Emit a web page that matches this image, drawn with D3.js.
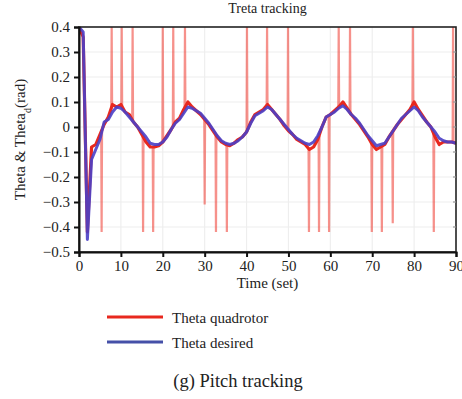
<!DOCTYPE html>
<html>
<head>
<meta charset="utf-8">
<script src="https://cdn.jsdelivr.net/npm/d3@7"></script>
<style>
  body { margin: 0; background: #fff; }
  text { font-family: "Liberation Serif", "DejaVu Serif", serif; fill: #222; }
</style>
</head>
<body>
<svg id="chart" width="462" height="399"></svg>
<script>
// time axis, one sample per second
var time = d3.range(0, 91);

// desired pitch (rad)
var thetaDesired = [
  0.40, 0.38, -0.45, -0.13, -0.09, -0.05, 0.02, 0.03, 0.06, 0.08,
  0.075, 0.06, 0.04, 0.02, 0.00, -0.02, -0.04, -0.065, -0.07, -0.07,
  -0.06, -0.04, -0.01, 0.015, 0.03, 0.055, 0.08, 0.075, 0.065, 0.055,
  0.035, 0.015, -0.01, -0.035, -0.055, -0.065, -0.07, -0.065, -0.055, -0.04,
  -0.02, 0.015, 0.045, 0.055, 0.065, 0.08, 0.07, 0.05, 0.03, 0.01,
  -0.01, -0.03, -0.045, -0.055, -0.065, -0.07, -0.06, -0.035, 0.0, 0.04,
  0.05, 0.06, 0.075, 0.085, 0.07, 0.05, 0.035, 0.015, -0.01, -0.035,
  -0.055, -0.075, -0.07, -0.065, -0.04, -0.015, 0.01, 0.035, 0.05, 0.065,
  0.08, 0.065, 0.04, 0.02, 0.0, -0.02, -0.045, -0.055, -0.06, -0.06,
  -0.065
];

// quadrotor pitch (rad), red trace without the spikes
var thetaQuad = [
  0.40, 0.36, -0.42, -0.08, -0.07, -0.03, 0.01, 0.04, 0.09, 0.08,
  0.09, 0.06, 0.05, 0.02, 0.00, -0.03, -0.06, -0.08, -0.08, -0.075,
  -0.06, -0.035, -0.01, 0.02, 0.035, 0.07, 0.1, 0.08, 0.065, 0.05,
  0.03, 0.01, -0.015, -0.04, -0.06, -0.07, -0.075, -0.065, -0.05, -0.04,
  -0.02, 0.02, 0.05, 0.06, 0.07, 0.09, 0.07, 0.05, 0.03, 0.005,
  -0.015, -0.03, -0.05, -0.06, -0.07, -0.09, -0.08, -0.05, 0.0, 0.04,
  0.05, 0.065, 0.08, 0.1, 0.075, 0.05, 0.03, 0.01, -0.015, -0.04,
  -0.07, -0.09, -0.08, -0.07, -0.04, -0.015, 0.01, 0.03, 0.05, 0.07,
  0.1, 0.07, 0.045, 0.02, 0.0, -0.04, -0.07, -0.06, -0.06, -0.06,
  -0.065
];

// spikes of the quadrotor trace: [time, extreme value]
var quadSpikes = [
  [5.4, -0.42], [7.8, 0.4], [10.2, 0.4], [12.8, 0.4], [15.3, -0.42],
  [17.7, -0.42], [20.0, 0.4], [22.5, 0.4], [25.3, 0.4], [30.0, -0.31],
  [32.7, -0.42], [35.3, -0.42], [40.1, 0.4], [44.9, 0.4], [49.9, 0.4],
  [54.9, -0.42], [57.3, -0.42], [59.7, -0.42], [62.0, 0.4], [64.7, 0.4],
  [69.9, -0.42], [72.3, -0.42], [74.9, -0.385], [79.7, 0.4], [84.7, -0.42],
  [89.3, 0.4]
];

var xTicks = d3.range(0, 91, 10);
var yTicks = [0.4, 0.3, 0.2, 0.1, 0, -0.1, -0.2, -0.3, -0.4, -0.5];

var seriesNames = ["Theta quadrotor", "Theta desired"];
var seriesColors = ["#e8281e", "#4a3fc6"];

var svg = d3.select("#chart");
var pLeft = 79, pRight = 456, pTop = 27, pBottom = 252;

var x = d3.scaleLinear().domain([0, 90]).range([pLeft, pRight]);
var y = d3.scaleLinear().domain([-0.5, 0.4]).range([pBottom, pTop]);

svg.append("defs").append("clipPath").attr("id", "plotClip")
  .append("rect")
    .attr("x", pLeft).attr("y", pTop)
    .attr("width", pRight - pLeft).attr("height", pBottom - pTop);

// faint grid
var grid = svg.append("g").attr("class", "grid");
grid.selectAll("line.gx").data(xTicks.slice(1, -1)).enter().append("line")
  .attr("x1", function(d){ return x(d); }).attr("x2", function(d){ return x(d); })
  .attr("y1", pTop).attr("y2", pBottom)
  .attr("stroke", "#eeeeee").attr("stroke-width", 1.2);
grid.selectAll("line.gy").data(yTicks.slice(1, -1)).enter().append("line")
  .attr("y1", function(d){ return y(d); }).attr("y2", function(d){ return y(d); })
  .attr("x1", pLeft).attr("x2", pRight)
  .attr("stroke", "#eeeeee").attr("stroke-width", 1.2);

var plot = svg.append("g").attr("clip-path", "url(#plotClip)");
var line = d3.line().x(function(d){ return x(d[0]); }).y(function(d){ return y(d[1]); });

// value of the quadrotor base trace at time t
function quadAt(t){
  var i = Math.floor(t), f = t - i;
  return thetaQuad[i] * (1 - f) + thetaQuad[Math.min(i + 1, 90)] * f;
}

// spikes as vertical strokes from the trace to the extreme
plot.selectAll("path.spike").data(quadSpikes).enter().append("path")
  .attr("class", "spike")
  .attr("d", function(d){
    return line([[d[0] - 0.1, quadAt(d[0])], [d[0], d[1]], [d[0] + 0.1, quadAt(d[0])]]);
  })
  .attr("fill", "none")
  .attr("stroke", "#f0483d").attr("stroke-opacity", 0.6)
  .attr("stroke-width", 2.2);

plot.append("path")
  .datum(time.map(function(t, i){ return [t, thetaQuad[i]]; }))
  .attr("d", line)
  .attr("fill", "none")
  .attr("stroke", seriesColors[0])
  .attr("stroke-width", 3.2)
  .attr("stroke-linejoin", "round");

plot.append("path")
  .datum(time.map(function(t, i){ return [t, thetaDesired[i]]; }))
  .attr("d", line)
  .attr("fill", "none")
  .attr("stroke", seriesColors[1])
  .attr("stroke-opacity", 0.9)
  .attr("stroke-width", 3)
  .attr("stroke-linejoin", "round");

// frame
svg.append("rect")
  .attr("x", pLeft).attr("y", pTop)
  .attr("width", pRight - pLeft).attr("height", pBottom - pTop)
  .attr("fill", "none").attr("stroke", "#222").attr("stroke-width", 1.6);

// inner ticks on the right side
svg.append("g").selectAll("line").data(yTicks.slice(1, -1)).enter().append("line")
  .attr("x1", pRight - 3).attr("x2", pRight)
  .attr("y1", function(d){ return y(d); }).attr("y2", function(d){ return y(d); })
  .attr("stroke", "#999").attr("stroke-width", 1.2);

var fmt = function(d){ return d3.format(".1f")(Math.abs(d)); };

var yAxis = svg.append("g")
  .attr("transform", "translate(" + pLeft + ",0)")
  .call(d3.axisLeft(y).tickValues(yTicks).tickSize(5).tickPadding(4)
    .tickFormat(function(d){ return Math.abs(d) < 1e-9 ? "0" : (d < 0 ? "\u2212" : "") + fmt(d); }));
var xAxis = svg.append("g")
  .attr("transform", "translate(0," + pBottom + ")")
  .call(d3.axisBottom(x).tickValues(xTicks).tickSize(5).tickPadding(3));

[xAxis, yAxis].forEach(function(a){
  a.select(".domain").attr("stroke", "#111").attr("stroke-width", 2);
  a.selectAll(".tick line").attr("stroke", "#111").attr("stroke-width", 2);
  a.selectAll(".tick text")
    .style("font-family", "'Liberation Serif', serif")
    .style("font-size", "15px").attr("fill", "#222");
});

// title
svg.append("text")
  .attr("x", (pLeft + pRight) / 2).attr("y", 13)
  .attr("text-anchor", "middle")
  .style("font-size", "14px")
  .text("Treta tracking");

// axis labels
var yl = svg.append("text")
  .attr("transform", "translate(25," + ((pTop + pBottom) / 2) + ") rotate(-90)")
  .attr("text-anchor", "middle")
  .style("font-size", "15px");
yl.append("tspan").text("Theta & Theta");
yl.append("tspan").attr("baseline-shift", "sub").style("font-size", "10px").text("d");
yl.append("tspan").text("(rad)");

svg.append("text")
  .attr("x", (pLeft + pRight) / 2).attr("y", 288)
  .attr("text-anchor", "middle")
  .style("font-size", "15px")
  .text("Time (set)");

// legend
var legend = svg.append("g").selectAll("g").data(seriesNames).enter().append("g")
  .attr("transform", function(d, i){ return "translate(107," + (317 + i * 25) + ")"; });
legend.append("line")
  .attr("x1", 0).attr("x2", 56).attr("y1", 0).attr("y2", 0)
  .attr("stroke", function(d, i){ return i === 0 ? seriesColors[0] : "#4550a8"; })
  .attr("stroke-width", 3);
legend.append("text")
  .attr("x", 65).attr("y", 6)
  .style("font-size", "15px")
  .text(function(d){ return d; });

// caption
svg.append("text")
  .attr("x", 238).attr("y", 387)
  .attr("text-anchor", "middle")
  .style("font-size", "18.5px")
  .text("(g) Pitch tracking");
</script>
</body>
</html>
